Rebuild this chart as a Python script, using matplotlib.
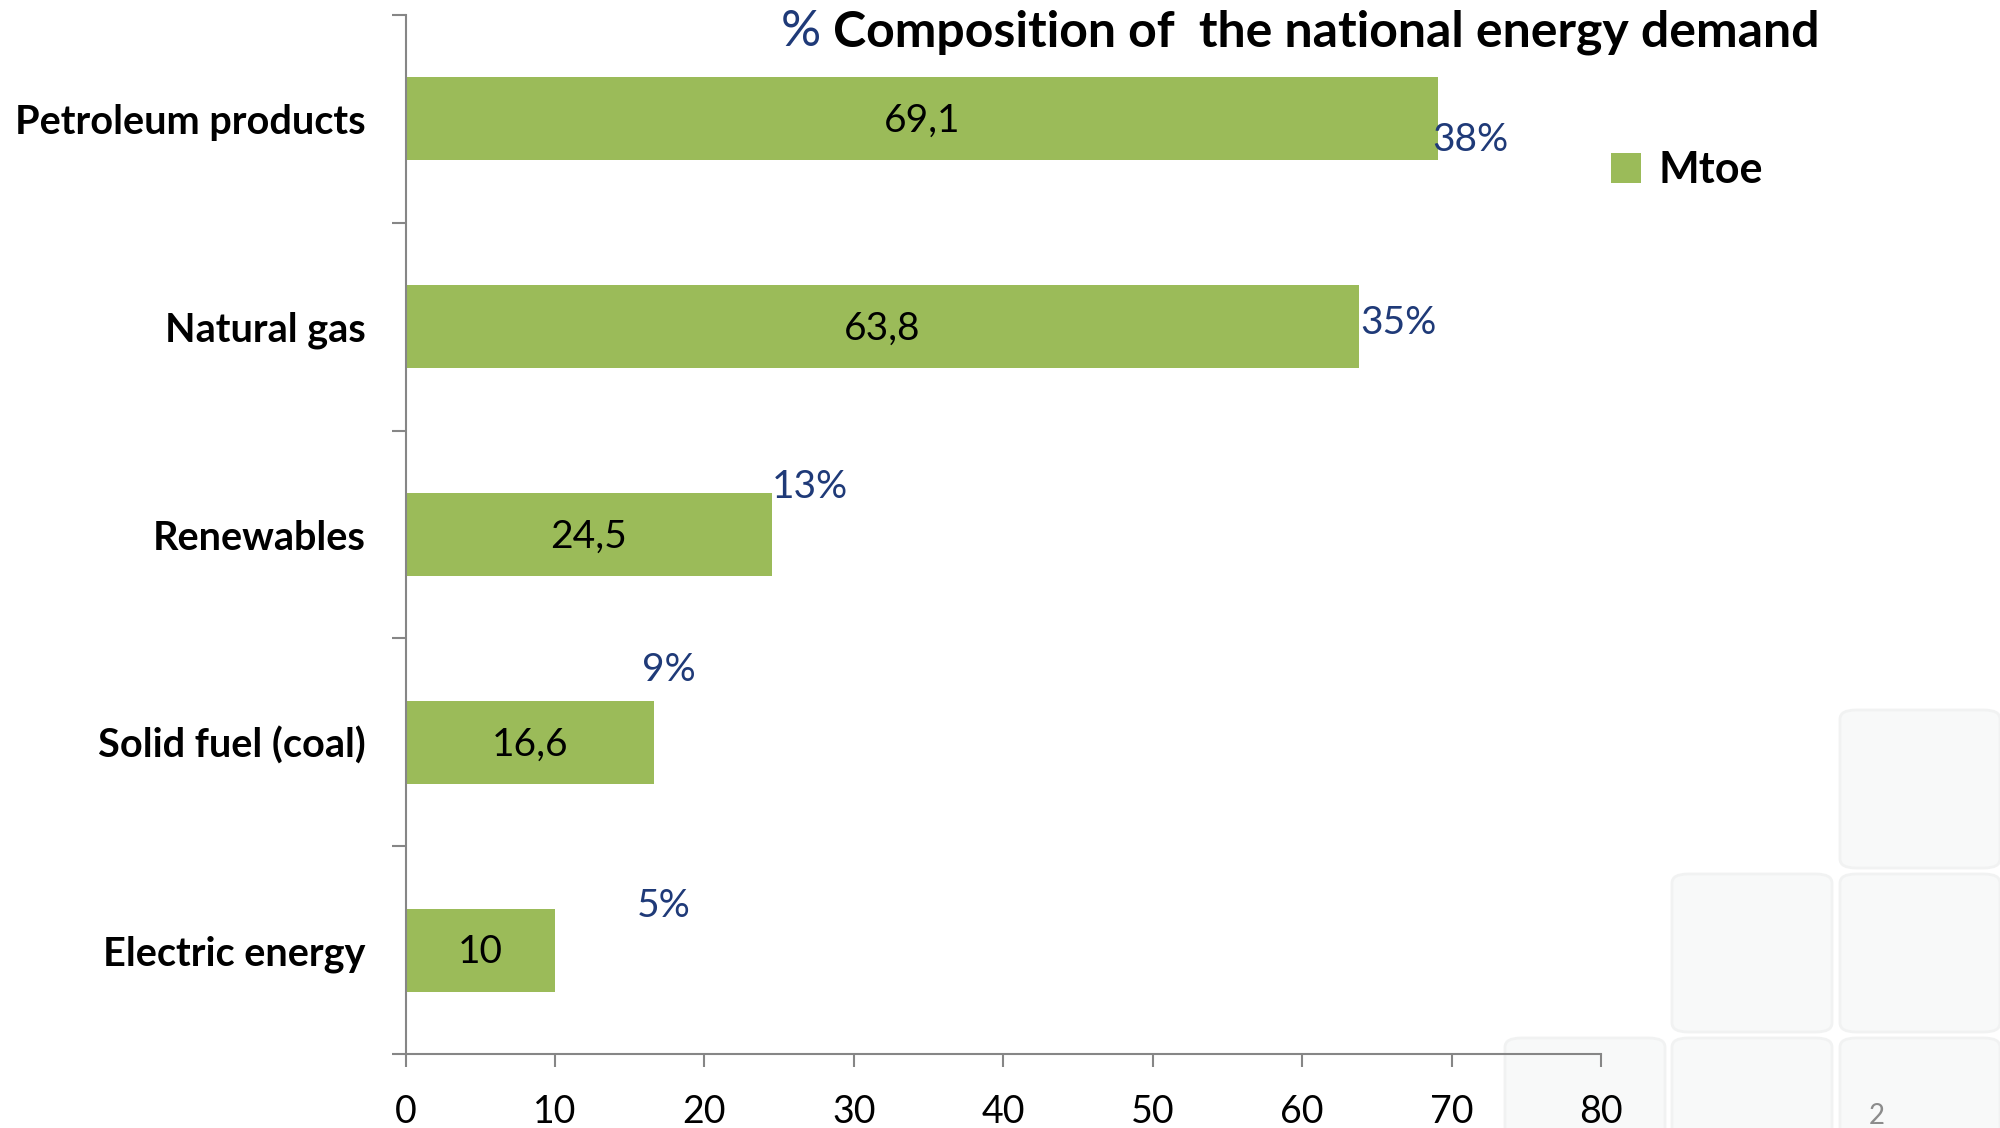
import numpy as np
import matplotlib
matplotlib.use('Agg')
import matplotlib.pyplot as plt
from matplotlib.patches import FancyBboxPatch

plt.rcParams['font.family'] = ['Lato', 'DejaVu Sans']

# data
categories = ['Petroleum products', 'Natural gas', 'Renewables', 'Solid fuel (coal)', 'Electric energy']
mtoe = [69.1, 63.8, 24.5, 16.6, 10.0]
value_labels = ['69,1', '63,8', '24,5', '16,6', '10']
share_labels = ['38%', '35%', '13%', '9%', '5%']
# where the share labels sit (x in Mtoe, y offset in category units)
share_x = [68.7, 63.9, 24.5, 15.8, 15.5]
share_dy = [0.10, -0.02, -0.23, -0.35, -0.21]
x_ticks = [0, 10, 20, 30, 40, 50, 60, 70, 80]

green = '#9BBB59'
navy = '#1F3A78'
spine_grey = '#868686'

fig = plt.figure(figsize=(20, 11.28), dpi=100)

# faint background tiles in the lower right corner (pixel positions of the slide design)
tiles = [(1840, 710), (1672, 874), (1840, 874), (1505, 1038), (1672, 1038), (1840, 1038)]
for tx, ty in tiles:
    box = FancyBboxPatch((tx / 2000, 1 - (ty + 158) / 1128), 160 / 2000, 158 / 1128,
                         boxstyle='round,pad=0,rounding_size=0.008',
                         transform=fig.transFigure, facecolor='#F8F9F9',
                         edgecolor='#F1F2F2', linewidth=2, zorder=-5)
    fig.patches.append(box)
fig.text(1877 / 2000, 1 - 1116 / 1128, '2', fontsize=20, color='#8C8C8C', ha='center', va='center')

ax = fig.add_axes([0.2028, 0.0656, 0.8005 - 0.2028, 0.9867 - 0.0656])
ax.set_zorder(2)
ax.patch.set_alpha(0)

y = np.arange(len(categories))
bars = ax.barh(y, mtoe, height=0.4, color=green, label='Mtoe', zorder=2)

ax.set_xlim(0, 80)
ax.set_ylim(len(categories) - 0.5, -0.5)
ax.set_xticks(x_ticks)
ax.set_xticklabels([str(t) for t in x_ticks], fontsize=27)

# category ticks sit on the boundaries, labels in the middle
ax.set_yticks(np.arange(len(categories) + 1) - 0.5)
ax.set_yticklabels([])
ax.set_yticks(y, minor=True)
ax.set_yticklabels(categories, minor=True, fontsize=28.5, fontweight='bold')
ax.tick_params(axis='y', which='minor', length=0, pad=29)
ax.tick_params(axis='y', which='major', length=10, width=1.5, color=spine_grey, direction='out')
ax.tick_params(axis='x', length=9, width=1.5, color=spine_grey, direction='out', pad=20)

for side in ['top', 'right']:
    ax.spines[side].set_visible(False)
for side in ['left', 'bottom']:
    ax.spines[side].set_color(spine_grey)
    ax.spines[side].set_linewidth(1.5)

for i, b in enumerate(bars):
    ax.text(mtoe[i] / 2, i + 0.01, value_labels[i], ha='center', va='center', fontsize=28, color='black', zorder=3)
    ax.text(share_x[i], i + share_dy[i], share_labels[i], ha='left', va='center', fontsize=28, color=navy, zorder=3)

# title with a navy % sign
pct = fig.text(781 / 2000, 1 - 32 / 1128, '%', fontsize=36, color=navy, va='center', ha='left')
ax.annotate(' Composition of  the national energy demand', xy=(1, 0.5), xycoords=pct,
            va='center', ha='left', fontsize=36, fontweight='bold', color='black',
            annotation_clip=False)

leg = fig.legend(handles=[bars], labels=['Mtoe'], loc='center left',
                 bbox_to_anchor=(1572 / 2000, 1 - 170 / 1128), frameon=False,
                 prop={'size': 31, 'weight': 'bold'}, handlelength=0.7, handleheight=0.7,
                 handletextpad=0.4)

fig.savefig('out.png', dpi=100)
